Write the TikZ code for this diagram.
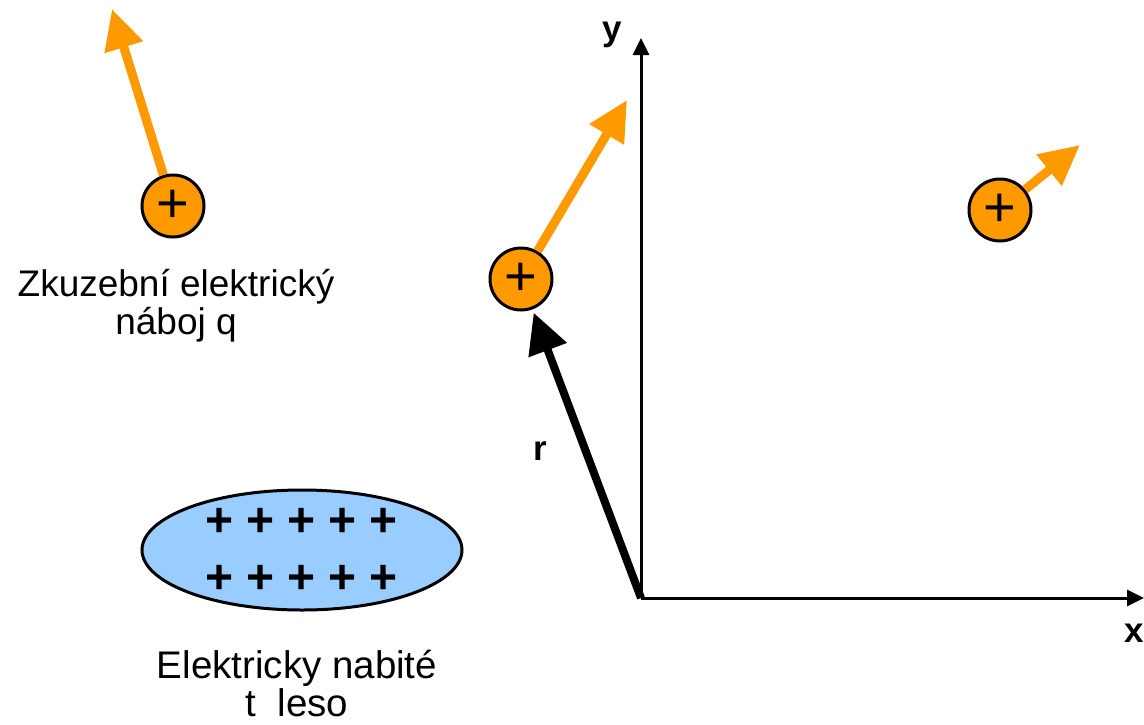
\documentclass[tikz,border=0pt]{standalone}
\usepackage{fontspec}
\setmainfont{Liberation Sans}
\usetikzlibrary{arrows.meta,shapes.geometric}
\definecolor{qorange}{HTML}{FF9900}
\definecolor{bodyblue}{HTML}{99CCFF}
\tikzset{
  charge/.style={circle, draw=black, line width=3pt, fill=qorange, minimum size=62pt, inner sep=0pt, font=\fontsize{56}{56}\selectfont},
  forcearrow/.style={draw=qorange, line width=9pt, -{Triangle[length=40pt,width=38pt]}},
  rarrow/.style={draw=black, line width=8pt, -{Triangle[length=40pt,width=39pt]}, shorten >=3.5pt},
  axis/.style={draw=black, line width=3pt, -{Triangle[length=17pt,width=16pt]}},
  lbl/.style={align=center, font=\fontsize{37}{38}\selectfont, inner sep=0pt},
  axlbl/.style={font=\bfseries\fontsize{35}{35}\selectfont, inner sep=0pt, anchor=base},
  plusrow/.style={font=\bfseries\fontsize{48}{48}\selectfont, inner sep=0pt}
}
\begin{document}
\begin{tikzpicture}[x=1pt,y=-1pt]
\useasboundingbox (0,0) rectangle (1144,724);
% axes
\coordinate (O) at (641,598);
\coordinate (ytip) at (641,38);
\coordinate (xtip) at (1144,598);
\draw[axis] (O) -- (ytip);
\draw[axis] (O) -- (xtip);
\node[axlbl] (ylab) at (612,40) {y};
\node[axlbl, anchor=base east] (xlab) at (1144,642) {x};
% charged body
\node[ellipse, draw=black, line width=3pt, fill=bodyblue, minimum width=320pt, minimum height=120pt, inner sep=0pt] (body) at (302,550) {};
\foreach \i/\x in {1/220,2/261,3/302,4/343,5/384}{
  \node[plusrow] (pa\i) at (\x,522) {+};
  \node[plusrow] (pb\i) at (\x,579) {+};
}
\node[lbl, font=\fontsize{38.5}{38}\selectfont] (bodylab) at (297,684) {Elektricky nabité\\t\ \ leso};
% test charges
\node[charge] (q1) at (173,206) {+};
\node[charge] (q2) at (521,279) {+};
\node[charge] (q3) at (1000,210) {+};
\coordinate (t1) at (112,9);
\coordinate (t2) at (627,100);
\coordinate (t3) at (1080,145);
\draw[forcearrow] (q1) -- (t1);
\draw[forcearrow] (q2) -- (t2);
\draw[forcearrow] (q3) -- (t3);
\node[lbl] (qlab) at (176,306) {Zkuzební elektrický\\náboj q};
% position vector
\draw[rarrow] (O) -- (q2);
\node[axlbl] (rlab) at (540,460) {r};
\end{tikzpicture}
\end{document}
